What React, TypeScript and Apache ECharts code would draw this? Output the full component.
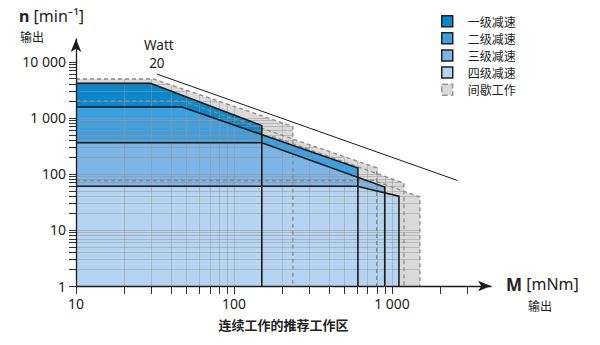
import React, { useEffect, useRef } from 'react';
import * as echarts from 'echarts';

// ---------- data ----------
const stageNames = ['一级减速', '二级减速', '三级减速', '四级减速'];
const stageMaxSpeed = [4100, 1550, 358, 60];
const stageKneeTorque = [29.6, 46.9, 150, 600];
const stageEndTorque = [150, 609, 900, 1107];
const stageEndSpeed = [726, 127, 58, 40];

const intermittentName = '间歇工作';
const intMaxSpeed = [4900, 1985, 453, 76];
const intKneeTorque = [31, 47, 179, 765];
const intEndTorque = [236, 800, 1191, 1503];
const intEndSpeed = [697, 128, 68, 38.7];

const wattLabelTop = 'Watt';
const wattLabelBottom = '20';
const wattLineTorque = [32.5, 2600];
const wattLineSpeed = [6000, 76];

const xTickValues = [10, 20, 30, 40, 50, 60, 70, 80, 90, 100, 200, 300, 400, 500, 600, 700, 800, 900, 1000, 2000, 3000];
const yTickValues = [1, 2, 3, 4, 5, 6, 7, 8, 9, 10, 20, 30, 40, 50, 60, 70, 80, 90, 100, 200, 300, 400, 500, 600, 700, 800, 900,
  1000, 2000, 3000, 4000, 5000, 6000, 7000, 8000, 9000, 10000];
const xLabelValues = [10, 100, 1000];
const xLabelTexts = ['10', '100', '1 000'];
const yLabelValues = [1, 10, 100, 1000, 10000];
const yLabelTexts = ['1', '10', '100', '1 000', '10 000'];

const xAxisTitle = '连续工作的推荐工作区';

// ---------- styles ----------
const FONT = "'Noto Sans', 'Noto Sans CJK SC', sans-serif";
const CJK = "'Noto Sans CJK SC', 'Noto Sans', sans-serif";
const stageColors = ['#0b87cc', '#3c9fe0', '#7cb5e6', '#b5d4f1'];
const intColor = '#dadada';
const dashColor = '#8a8a8a';
const lineColor = '#1a1a1a';

const lg = Math.log10;

function polygonPoints(nmax: number, knee: number, endM: number, endN: number) {
  return [[10, 1], [10, nmax], [knee, nmax], [endM, endN], [endM, 1]];
}
function outlinePoints(nmax: number, knee: number, endM: number, endN: number) {
  return [[10, nmax], [knee, nmax], [endM, endN], [endM, 1]];
}
function topAt(i: number, M: number) {
  const nmax = intMaxSpeed[i], knee = intKneeTorque[i], endM = intEndTorque[i], endN = intEndSpeed[i];
  if (M <= knee) return nmax;
  if (M > endM + 1e-9) return 0;
  const t = (lg(M) - lg(knee)) / (lg(endM) - lg(knee));
  return Math.pow(10, lg(nmax) + t * (lg(endN) - lg(nmax)));
}
function rightAt(i: number, n: number) {
  const nmax = intMaxSpeed[i], knee = intKneeTorque[i], endM = intEndTorque[i], endN = intEndSpeed[i];
  if (n > nmax) return 0;
  if (n <= endN) return endM;
  const t = (lg(nmax) - lg(n)) / (lg(nmax) - lg(endN));
  return Math.pow(10, lg(knee) + t * (lg(endM) - lg(knee)));
}
const crisp = (v: number) => Math.round(v) + 0.5;

export default function App() {
  const ref = useRef<HTMLDivElement>(null);

  useEffect(() => {
    if (!ref.current) return;
    const chart = echarts.init(ref.current, undefined, { renderer: 'svg' });

    const series: any[] = [];

    // intermittent fills
    series.push({
      type: 'custom',
      name: intermittentName,
      coordinateSystem: 'cartesian2d',
      z: 1,
      silent: true,
      itemStyle: { color: intColor },
      data: intMaxSpeed.map((n, i) => [intKneeTorque[i], n, i]),
      renderItem: (_p: any, api: any) => {
        const i = api.value(2);
        const pts = polygonPoints(intMaxSpeed[i], intKneeTorque[i], intEndTorque[i], intEndSpeed[i]).map((p) => api.coord(p));
        return { type: 'polygon', shape: { points: pts }, style: { fill: intColor } };
      },
    });

    // stage fills
    stageNames.forEach((name, i) => {
      series.push({
        type: 'custom',
        name,
        coordinateSystem: 'cartesian2d',
        z: 2 + i * 0.1,
        silent: true,
        itemStyle: { color: stageColors[i] },
        data: [[stageKneeTorque[i], stageMaxSpeed[i]]],
        renderItem: (_p: any, api: any) => {
          const pts = polygonPoints(stageMaxSpeed[i], stageKneeTorque[i], stageEndTorque[i], stageEndSpeed[i]).map((p) => api.coord(p));
          return { type: 'polygon', shape: { points: pts }, style: { fill: stageColors[i] } };
        },
      });
    });

    // grid lines clipped to operating area
    series.push({
      type: 'custom',
      coordinateSystem: 'cartesian2d',
      z: 3,
      silent: true,
      data: [[10, 1]],
      renderItem: (_p: any, api: any) => {
        const children: any[] = [];
        const gs = { stroke: 'rgba(150,150,150,0.5)', lineWidth: 1 };
        xTickValues.filter((v) => v > 10).forEach((M) => {
          const top = Math.max(...intMaxSpeed.map((_, i) => topAt(i, M)));
          if (top > 1) {
            const a = api.coord([M, 1]);
            const b = api.coord([M, top]);
            children.push({ type: 'line', shape: { x1: crisp(a[0]), y1: a[1], x2: crisp(a[0]), y2: b[1] }, style: gs });
          }
        });
        yTickValues.filter((v) => v > 1).forEach((n) => {
          const right = Math.max(...intMaxSpeed.map((_, i) => rightAt(i, n)));
          if (right > 10) {
            const a = api.coord([10, n]);
            const b = api.coord([right, n]);
            children.push({ type: 'line', shape: { x1: a[0], y1: crisp(a[1]), x2: b[0], y2: crisp(a[1]) }, style: gs });
          }
        });
        return { type: 'group', children };
      },
    });

    // intermittent dashed outlines
    series.push({
      type: 'custom',
      coordinateSystem: 'cartesian2d',
      z: 4,
      silent: true,
      data: intMaxSpeed.map((n, i) => [intKneeTorque[i], n, i]),
      renderItem: (_p: any, api: any) => {
        const i = api.value(2);
        const pts = outlinePoints(intMaxSpeed[i], intKneeTorque[i], intEndTorque[i], intEndSpeed[i]).map((p) => api.coord(p));
        return { type: 'polyline', shape: { points: pts }, style: { stroke: dashColor, lineWidth: 1.3, lineDash: [4, 3], fill: 'none' } };
      },
    });

    // stage black outlines
    series.push({
      type: 'custom',
      coordinateSystem: 'cartesian2d',
      z: 5,
      silent: true,
      data: stageMaxSpeed.map((n, i) => [stageKneeTorque[i], n, i]),
      renderItem: (_p: any, api: any) => {
        const i = api.value(2);
        const pts = outlinePoints(stageMaxSpeed[i], stageKneeTorque[i], stageEndTorque[i], stageEndSpeed[i]).map((p) => api.coord(p));
        return { type: 'polyline', shape: { points: pts }, style: { stroke: lineColor, lineWidth: 1.6, fill: 'none' } };
      },
    });

    // 20 W power line with label
    series.push({
      type: 'custom',
      coordinateSystem: 'cartesian2d',
      z: 5,
      silent: true,
      data: [[wattLineTorque[0], wattLineSpeed[0], wattLineTorque[1], wattLineSpeed[1]]],
      renderItem: (_p: any, api: any) => {
        const a = api.coord([api.value(0), api.value(1)]);
        const b = api.coord([api.value(2), api.value(3)]);
        return {
          type: 'group',
          children: [
            { type: 'line', shape: { x1: a[0], y1: a[1], x2: b[0], y2: b[1] }, style: { stroke: lineColor, lineWidth: 1 } },
            {
              type: 'text',
              x: a[0] + 2,
              y: a[1] - 29,
              style: { text: wattLabelTop, fontSize: 13.5, fontFamily: FONT, fill: '#222', align: 'center', verticalAlign: 'middle' },
            },
            {
              type: 'text',
              x: a[0],
              y: a[1] - 11,
              style: { text: wattLabelBottom, fontSize: 13.5, fontFamily: FONT, fill: '#222', align: 'center', verticalAlign: 'middle' },
            },
          ],
        };
      },
    });

    // axis ticks (log minor ticks)
    series.push({
      type: 'custom',
      coordinateSystem: 'cartesian2d',
      z: 6,
      silent: true,
      data: [[10, 1]],
      renderItem: (_p: any, api: any) => {
        const children: any[] = [];
        const ts = { stroke: '#333', lineWidth: 1 };
        xTickValues.forEach((M) => {
          const a = api.coord([M, 1]);
          children.push({ type: 'line', shape: { x1: crisp(a[0]), y1: a[1], x2: crisp(a[0]), y2: a[1] + 8 }, style: ts });
        });
        yTickValues.forEach((n) => {
          const a = api.coord([10, n]);
          children.push({ type: 'line', shape: { x1: a[0] - 7, y1: crisp(a[1]), x2: a[0], y2: crisp(a[1]) }, style: ts });
        });
        return { type: 'group', children };
      },
    });

    const labelFor = (values: number[], texts: string[]) => (v: number) => {
      const idx = values.findIndex((x) => Math.abs(x - v) / x < 1e-6);
      return idx >= 0 ? texts[idx] : '';
    };

    chart.setOption({
      animation: false,
      backgroundColor: '#ffffff',
      grid: { left: 76, right: 109, top: 39, bottom: 59, containLabel: false },
      legend: {
        orient: 'vertical',
        left: 441,
        top: 15,
        itemWidth: 11,
        itemHeight: 11,
        itemGap: 4.6,
        selectedMode: false,
        padding: 0,
        textStyle: { fontSize: 12, fontFamily: CJK, color: '#222', padding: [0, 0, 0, 10] },
        data: [
          ...stageNames.map((name, i) => ({
            name,
            icon: 'rect',
            itemStyle: { color: stageColors[i], borderColor: '#222', borderWidth: 1.5 },
          })),
          {
            name: intermittentName,
            icon: 'rect',
            itemStyle: { color: intColor, borderColor: '#999', borderWidth: 1.5, borderType: 'dashed' },
          },
        ],
      },
      xAxis: {
        type: 'log',
        logBase: 10,
        min: 10,
        max: 4236,
        z: 10,
        axisLine: { show: true, symbol: ['none', 'arrow'], symbolSize: [8, 13], lineStyle: { color: lineColor, width: 1.3 } },
        axisTick: { show: false },
        splitLine: { show: false },
        axisLabel: { formatter: labelFor(xLabelValues, xLabelTexts), margin: 10, fontSize: 14, color: '#222', fontFamily: FONT },
        name: xAxisTitle,
        nameLocation: 'middle',
        nameGap: 32,
        nameTextStyle: { fontSize: 13, fontWeight: 'bold', color: '#222', fontFamily: CJK },
      },
      yAxis: {
        type: 'log',
        logBase: 10,
        min: 1,
        max: 25290,
        z: 10,
        axisLine: { show: true, symbol: ['none', 'arrow'], symbolSize: [8, 13], lineStyle: { color: lineColor, width: 1.3 } },
        axisTick: { show: false },
        splitLine: { show: false },
        axisLabel: { formatter: labelFor(yLabelValues, yLabelTexts), margin: 10, fontSize: 14, color: '#222', fontFamily: FONT },
      },
      graphic: [
        {
          type: 'text',
          left: 19,
          top: 7,
          style: {
            text: '{b|n} [min⁻¹]',
            fontSize: 16,
            lineHeight: 18,
            fontFamily: FONT,
            fill: '#222',
            rich: { b: { fontSize: 16, lineHeight: 18, fontWeight: 'bold', fontFamily: FONT, fill: '#222' } },
          },
        },
        { type: 'text', left: 20, top: 30, style: { text: '输出', fontSize: 12, fontFamily: CJK, fill: '#222' } },
        {
          type: 'text',
          left: 506,
          top: 275,
          style: {
            text: '{b|M} [mNm]',
            fontSize: 16,
            lineHeight: 18,
            fontFamily: FONT,
            fill: '#222',
            rich: { b: { fontSize: 17, lineHeight: 18, fontWeight: 'bold', fontFamily: FONT, fill: '#222' } },
          },
        },
        { type: 'text', left: 528, top: 299, style: { text: '输出', fontSize: 12, fontFamily: CJK, fill: '#222' } },
      ],
      series,
    });

    return () => chart.dispose();
  }, []);

  return <div ref={ref} style={{ position: 'absolute', left: 0, top: 0, width: 600, height: 345, background: '#fff' }} />;
}
